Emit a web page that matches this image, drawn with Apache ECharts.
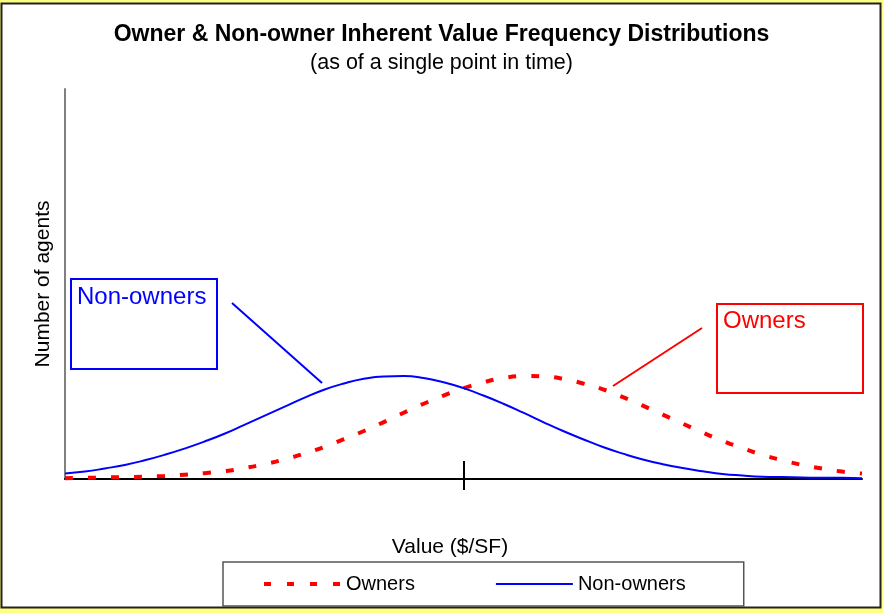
<!DOCTYPE html>
<html>
<head>
<meta charset="utf-8">
<script src="https://cdn.jsdelivr.net/npm/echarts@6/dist/echarts.min.js"></script>
<style>
html,body{margin:0;padding:0;background:#ffff80;}
#main{width:883px;height:613px;}
</style>
</head>
<body>
<div id="main"></div>
<script>
// Data (x in value units 0..100, y in "agents" with axis max 100)
var xValues = [0,2.5,5,7.5,10,12.5,15,17.5,20,22.5,25,27.5,30,32.5,35,37.5,40,42.5,45,47.5,50,52.5,55,57.5,60,62.5,65,67.5,70,72.5,75,77.5,80,82.5,85,87.5,90,92.5,95,97.5,100];
var nonOwners = [1.4,1.9,2.7,3.6,4.8,6.2,7.8,9.6,11.6,13.9,16.2,18.5,20.8,22.9,24.5,25.7,26.3,26.4,25.9,24.8,23.3,21.4,19.3,17.0,14.6,12.3,10.2,8.2,6.5,5.0,3.8,2.8,2.0,1.3,0.9,0.6,0.5,0.4,0.3,0.3,0.2];
var owners    = [0.2,0.3,0.4,0.5,0.6,0.8,1.1,1.5,2.0,2.8,3.8,5.0,6.5,8.2,10.2,12.3,14.6,17.0,19.3,21.4,23.3,24.8,25.9,26.4,26.3,25.7,24.5,23.0,21.0,18.8,16.5,14.2,11.9,9.8,7.9,6.2,4.8,3.6,2.7,1.9,1.4];
var xTicks = [50];
var seriesNames = ['Owners', 'Non-owners'];
var titleText = 'Owner & Non-owner Inherent Value Frequency Distributions';
var subtitleText = '(as of a single point in time)';
var xName = 'Value ($/SF)';
var yName = 'Number of agents';

function pairs(xs, ys){ return xs.map(function(x,i){ return [x, ys[i]]; }); }

var FONT = '"Liberation Sans", Arial, sans-serif';
var chart = echarts.init(document.getElementById('main'), null, {renderer:'canvas'});
chart.setOption({
  backgroundColor: '#ffff80',
  animation: false,
  title: [
    {text: titleText, left: 'center', top: 18, textStyle:{fontFamily:FONT, fontSize:23, fontWeight:'bold', color:'#000'}},
    {text: subtitleText, left: 'center', top: 47, textStyle:{fontFamily:FONT, fontSize:21.5, fontWeight:'normal', color:'#000'}}
  ],
  graphic: [
    {type:'rect', z:-100, shape:{x:1.5, y:3.5, width:879, height:604}, style:{fill:'#fff', stroke:'#222', lineWidth:2}},
    {type:'rect', shape:{x:71, y:279, width:146, height:90}, style:{fill:null, stroke:'#0000ff', lineWidth:2}},
    {type:'text', x:77, y:285, style:{text:'Non-owners', fill:'#0000ff', font:'24px ' + FONT}},
    {type:'line', shape:{x1:232, y1:303, x2:322, y2:383}, style:{stroke:'#0000ff', lineWidth:2}},
    {type:'rect', shape:{x:717, y:304, width:146, height:89}, style:{fill:null, stroke:'#ff0000', lineWidth:2}},
    {type:'text', x:723, y:309, style:{text:'Owners', fill:'#ff0000', font:'24px ' + FONT}},
    {type:'line', shape:{x1:702, y1:328, x2:613, y2:386}, style:{stroke:'#ff0000', lineWidth:2}}
  ],
  legend: {
    data: [
      {name: seriesNames[0], lineStyle:{width:4, type:[7,16], cap:'butt'}},
      {name: seriesNames[1], lineStyle:{width:2}}
    ],
    left: 223, top: 562,
    orient: 'horizontal',
    itemWidth: 77, itemHeight: 14, itemGap: 80,
    padding: [12, 58, 12, 39],
    borderColor: '#555', borderWidth: 1.5,
    backgroundColor: '#fff',
    itemStyle: {opacity: 0},
    textStyle: {fontFamily: FONT, fontSize: 20, color: '#000'}
  },
  grid: {left: 65, right: 21, top: 89, bottom: 134, containLabel:false},
  xAxis: [
    {type:'value', min:0, max:100, name:xName, nameLocation:'middle', nameGap:58,
     nameTextStyle:{fontFamily:FONT, fontSize:21, color:'#000', padding:[0,27,0,0]},
     axisLine:{show:true, onZero:false, lineStyle:{color:'#000', width:2}},
     axisTick:{show:true, inside:false, length:11, customValues:xTicks, lineStyle:{color:'#000', width:2}},
     axisLabel:{show:false}, splitLine:{show:false}},
    {type:'value', min:0, max:100, position:'bottom', gridIndex:0,
     axisLine:{show:false},
     axisTick:{show:true, inside:true, length:18, customValues:xTicks, lineStyle:{color:'#000', width:2}},
     axisLabel:{show:false}, splitLine:{show:false}}
  ],
  yAxis: {type:'value', min:0, max:100, name:yName, nameLocation:'middle', nameGap:11,
    nameTextStyle:{fontFamily:FONT, fontSize:21, color:'#000'},
    axisLine:{show:true, lineStyle:{color:'#808080', width:2}},
    axisTick:{show:false}, axisLabel:{show:false}, splitLine:{show:false}},
  series: [
    {name: seriesNames[0], type:'line', data: pairs(xValues, owners), symbol:'none', showSymbol:false, smooth:true,
     lineStyle:{color:'#ff0000', width:4, type:[8,15], cap:'butt'}, itemStyle:{color:'#ff0000'}, z:3},
    {name: seriesNames[1], type:'line', data: pairs(xValues, nonOwners), symbol:'none', showSymbol:false, smooth:true,
     lineStyle:{color:'#0000ff', width:2}, itemStyle:{color:'#0000ff'}, z:4}
  ]
});
</script>
</body>
</html>
